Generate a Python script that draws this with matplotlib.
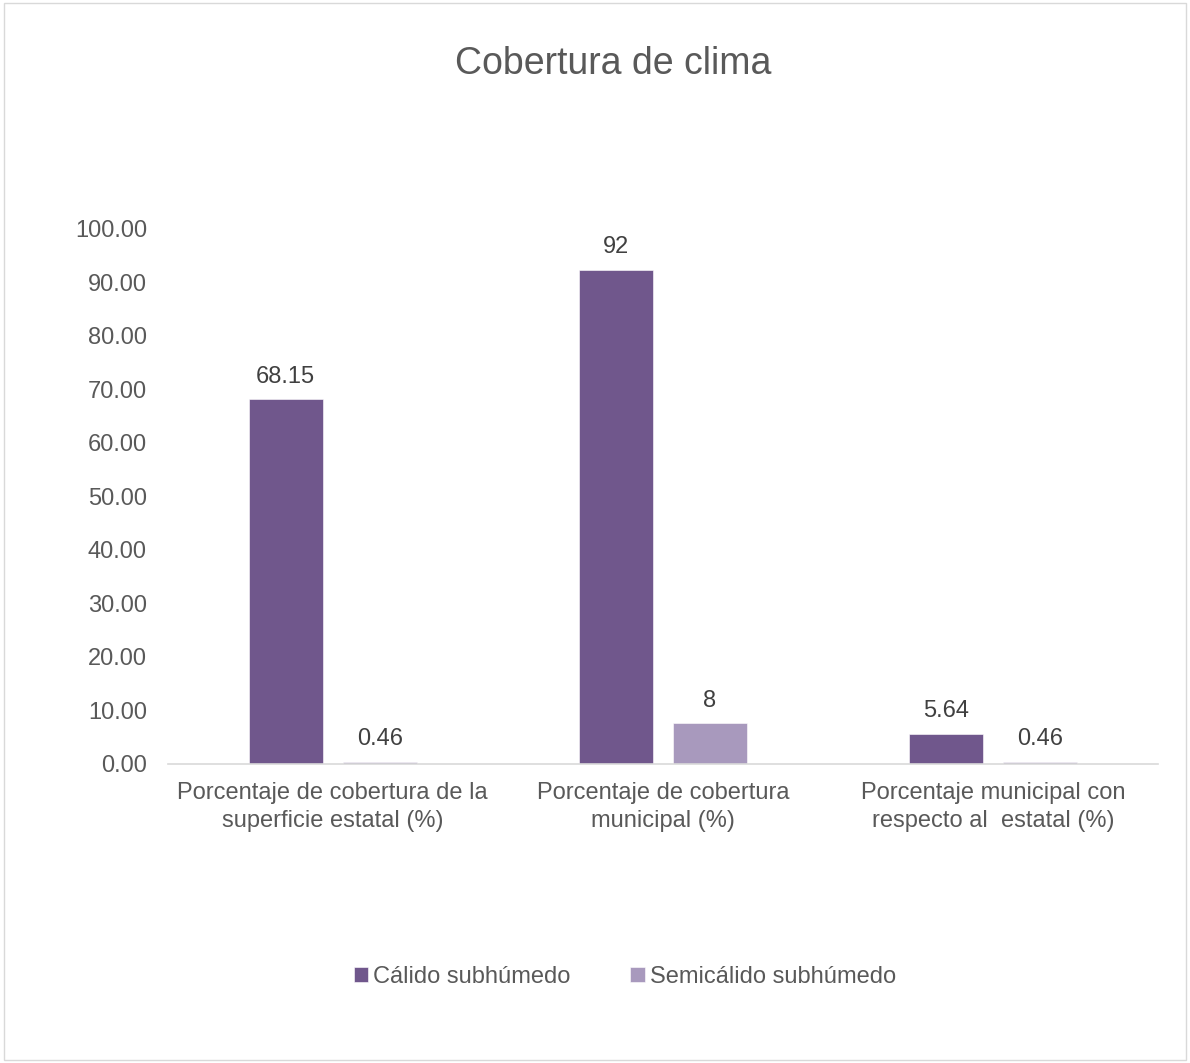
import numpy as np
import matplotlib.pyplot as plt

plt.rcParams['font.family'] = ['Liberation Sans', 'DejaVu Sans']

categories = ['Porcentaje de cobertura de la\nsuperficie estatal (%)',
              'Porcentaje de cobertura\nmunicipal (%)',
              'Porcentaje municipal con\nrespecto al  estatal (%)']
calido = [68.15, 92.4, 5.64]
semicalido = [0.46, 7.6, 0.46]
calido_labels = ['68.15', '92', '5.64']
semicalido_labels = ['0.46', '8', '0.46']
yticks = [0, 10, 20, 30, 40, 50, 60, 70, 80, 90, 100]

c1 = '#70578c'
c2 = '#a899bd'
txt = '#595959'

fig = plt.figure(figsize=(11.9, 10.63), dpi=100)
ax = fig.add_axes([0.141, 0.2813, 0.832, 0.5033])

x = np.arange(len(categories))
w = 0.224
off = 0.1424
b1 = ax.bar(x - off, calido, w, color=c1, edgecolor='white', linewidth=0.4, label='Cálido subhúmedo')
b2 = ax.bar(x + off, semicalido, w, color=c2, edgecolor='white', linewidth=0.4, label='Semicálido subhúmedo')

for bars, labels in ((b1, calido_labels), (b2, semicalido_labels)):
    for bar, lab in zip(bars, labels):
        ax.annotate(lab, (bar.get_x() + bar.get_width() / 2, bar.get_height()),
                    xytext=(0, 8.5), textcoords='offset points', ha='center', va='bottom',
                    fontsize=17, color='#404040')

ax.set_xlim(-0.5, 2.5)
ax.set_ylim(0, 100)
ax.set_yticks(yticks)
ax.set_yticklabels([f'{v:.2f}' for v in yticks])
ax.set_xticks(x)
ax.set_xticklabels(categories, linespacing=1.38)
ax.tick_params(axis='both', length=0, labelsize=17, labelcolor=txt)
ax.tick_params(axis='y', pad=15)
ax.tick_params(axis='x', pad=13)
for s in ('top', 'right', 'left'):
    ax.spines[s].set_visible(False)
ax.spines['bottom'].set_color('#d9d9d9')
ax.spines['bottom'].set_linewidth(1.2)

fig.text(0.515, 0.94, 'Cobertura de clima', ha='center', va='center', fontsize=27, color=txt)

fig.legend(loc='center', bbox_to_anchor=(0.525, 0.081), ncol=2, frameon=False,
           fontsize=17, labelcolor=txt, handlelength=0.62, handleheight=0.62,
           handletextpad=0.22, columnspacing=2.5)

border = plt.Rectangle((0.003, 0.003), 0.994, 0.994, transform=fig.transFigure,
                       fill=False, edgecolor='#d9d9d9', linewidth=1)
fig.patches.append(border)

fig.savefig('out.png', dpi=100)
